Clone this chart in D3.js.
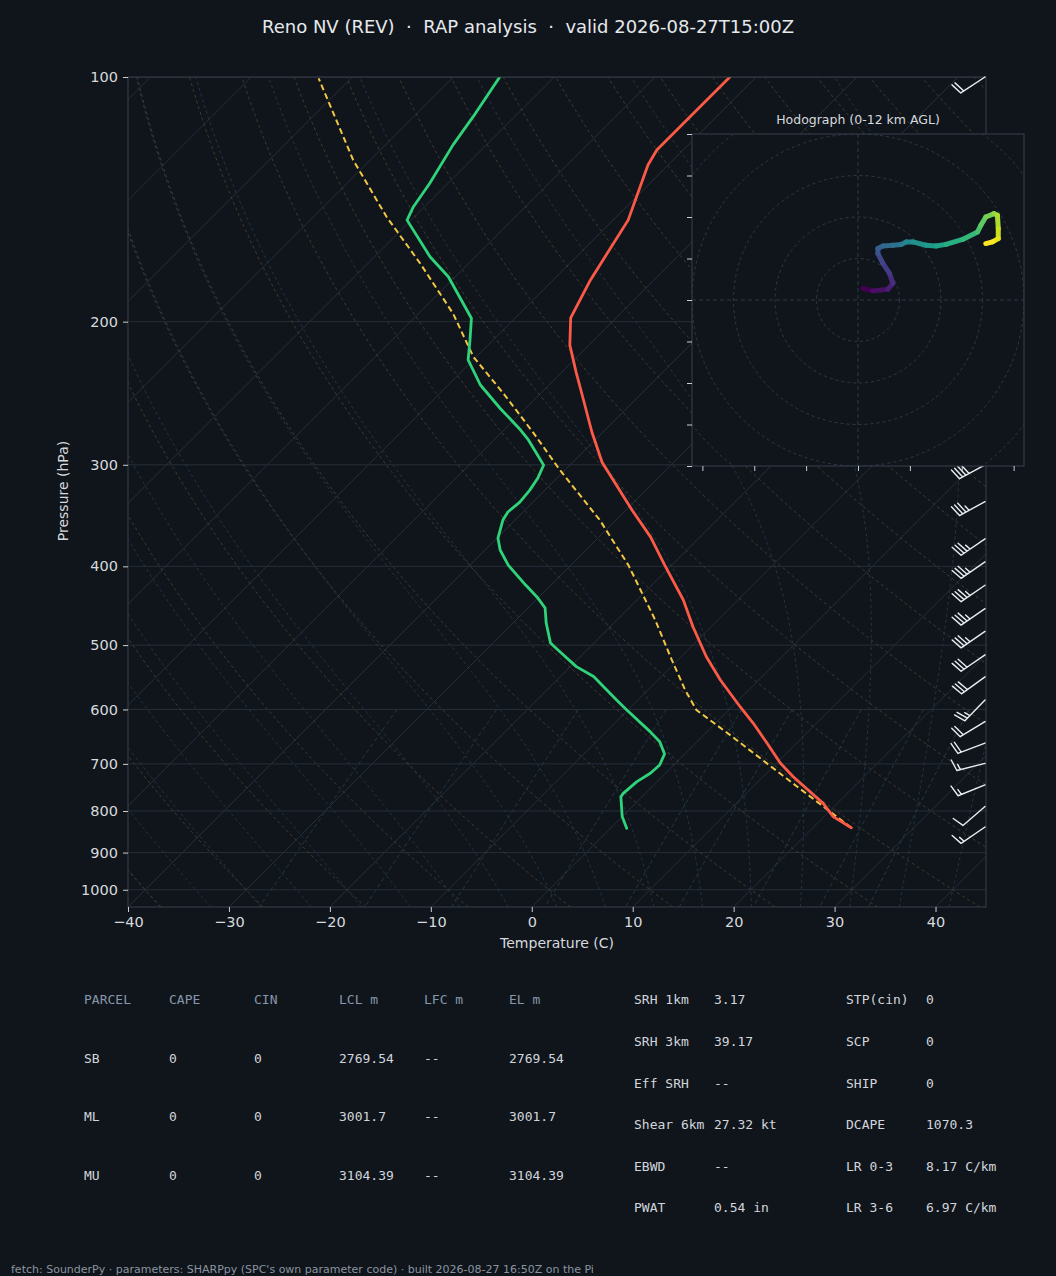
<!DOCTYPE html>
<html>
<head>
<meta charset="utf-8">
<title>Reno NV skew-T</title>
<script src="https://d3js.org/d3.v7.min.js"></script>
<style>
  body { margin: 0; background: #10151c; }
  svg { display: block; }
  text { font-family: "DejaVu Sans", sans-serif; white-space: pre; }
  .mono { font-family: "DejaVu Sans Mono", monospace; }
</style>
</head>
<body>
<svg id="skewt"></svg>
<script>
// ---- sounding data ----
// temperature, hPa / degC
var tempP = [838.8, 812.7, 782.8, 726, 698.8, 660.4, 624, 595.4, 552, 516.7, 474.6, 440, 398.6, 368, 341, 297.8, 273.4, 249.7, 230.7, 213.7, 197.9, 177.8, 150, 128.3, 123, 100];
var tempT = [23.8, 20.9, 18.6, 13.0, 10.4, 7.1, 3.75, 0.8, -3.8, -7.5, -11.8, -15.4, -20.7, -24.9, -29.4, -37.1, -41.1, -45.1, -48.6, -51.9, -54.5, -56.3, -58.5, -62.0, -62.6, -62.6];
// dewpoint
var dewP = [840, 812.7, 768.2, 760.9, 736.2, 718.9, 702.2, 680.7, 657.3, 638.9, 600.9, 584.2, 546.6, 531.4, 509.5, 497, 469.7, 450.1, 437.6, 421.8, 398.6, 381.9, 369.2, 350.8, 342.9, 333.4, 322.3, 311.4, 300.3, 287.7, 279.6, 271.7, 255.4, 239.3, 222.9, 210.6, 198.1, 176.1, 166.4, 150, 144.4, 135.2, 121.2, 111.9, 100];
var dewT = [1.6, 0.0, -2.1, -2.2, -2.0, -1.5, -1.4, -2.0, -3.7, -5.65, -10.1, -12.1, -16.7, -19.4, -22.5, -24.3, -26.7, -28.3, -30.0, -32.5, -36.2, -38.5, -39.9, -41.2, -41.5, -41.3, -41.5, -41.9, -42.6, -45.0, -46.6, -48.4, -52.6, -56.8, -60.5, -62.3, -64.3, -70.7, -74.5, -80.4, -81.1, -81.8, -83.3, -84.1, -85.4];
// surface parcel trace
var parcelP = [838.8, 739.5, 648.2, 600.9, 567.8, 521.5, 465.7, 398.6, 350.8, 304.5, 274.1, 246.2, 220.9, 195.4, 169.6, 148.5, 126.5, 100.4];
var parcelT = [23.8, 13.6, 3.0, -3.2, -6.3, -10.6, -16.2, -24.3, -31.6, -40.5, -46.8, -53.4, -60.3, -66.6, -74.8, -82.8, -91.7, -103.2];
// wind barbs, kt
var barbP = [100, 300, 333, 370, 395, 422, 451, 481, 514, 547, 584, 621, 660, 699, 743, 790, 837];
var barbU = [16.7, 35.1, 30.7, 28.8, 28.8, 28.8, 28.8, 28.8, 24.7, 24.3, 17.3, 17.1, 18.7, 14.5, 13.9, 7.6, 12.4];
var barbV = [11.0, 19.2, 16.8, 19.8, 19.8, 19.8, 19.8, 19.8, 17.0, 17.6, 18.0, 10.4, 7.1, 3.7, 5.6, 6.5, 8.5];
// hodograph, kt
var hodoU = [1.2, 3.6, 7.2, 8.4, 7.6, 6.0, 4.8, 4.8, 6.0, 8.4, 10.4, 11.6, 13.2, 16.4, 18.8, 21.2, 25.2, 28.8, 29.6, 30.8, 32.8, 33.6, 33.8, 33.8, 32.4, 30.8];
var hodoV = [2.8, 2.2, 2.6, 4.0, 6.4, 8.8, 11.2, 12.4, 13.0, 13.2, 13.4, 14.0, 14.0, 13.2, 13.0, 13.4, 14.6, 16.4, 18.0, 20.0, 20.8, 20.4, 17.2, 14.8, 14.0, 13.6];

var pressureTicks = [100, 200, 300, 400, 500, 600, 700, 800, 900, 1000];
var tempTicks = [-40, -30, -20, -10, 0, 10, 20, 30, 40];
var hodoRings = [10, 20, 30, 40, 50, 60];
var hodoYTicks = [-40, -30, -20, -10, 0, 10, 20, 30, 40];
var hodoXTicks = [-37.5, -25, -12.5, 0, 12.5, 25, 37.5];

var parcelHeader = ["PARCEL", "CAPE", "CIN", "LCL m", "LFC m", "EL m"];
var parcelRows = [
  ["SB", "0", "0", "2769.54", "--", "2769.54"],
  ["ML", "0", "0", "3001.7", "--", "3001.7"],
  ["MU", "0", "0", "3104.39", "--", "3104.39"]
];
var paramLabelsA = ["SRH 1km", "SRH 3km", "Eff SRH", "Shear 6km", "EBWD", "PWAT"];
var paramValuesA = ["3.17", "39.17", "--", "27.32 kt", "--", "0.54 in"];
var paramLabelsB = ["STP(cin)", "SCP", "SHIP", "DCAPE", "LR 0-3", "LR 3-6"];
var paramValuesB = ["0", "0", "0", "1070.3", "8.17 C/km", "6.97 C/km"];

// ---- layout ----
var W = 1056, H = 1276;
var m = { left: 128, right: 986, top: 77, bottom: 907 };
var bg = "#10151c", gridCol = "#262e38", spineCol = "#36414d", textCol = "#d6dade";

var svg = d3.select("#skewt").attr("width", W).attr("height", H);
svg.append("rect").attr("width", W).attr("height", H).attr("fill", bg);

var x = d3.scaleLinear().domain([-40, 45]).range([m.left, m.right]);
var y = d3.scaleLog().domain([1050, 100]).range([m.bottom, m.top]);
// 45 degree skew in pixels, anchored at the bottom of the plot
function skewX(t, p) { return x(t) + (m.bottom - y(p)); }
var line = d3.line().x(function (d) { return skewX(d[1], d[0]); }).y(function (d) { return y(d[0]); });

svg.append("clipPath").attr("id", "plotClip").append("rect")
  .attr("x", m.left).attr("y", m.top).attr("width", m.right - m.left).attr("height", m.bottom - m.top);

var plot = svg.append("g").attr("clip-path", "url(#plotClip)");

// background reference lines
var pSteps = d3.range(0, 121).map(function (i) { return 1050 * Math.pow(100 / 1050, i / 120); });

// isobars
plot.selectAll(".isobar").data(pressureTicks).enter().append("line")
  .attr("x1", m.left).attr("x2", m.right)
  .attr("y1", function (d) { return y(d); }).attr("y2", function (d) { return y(d); })
  .attr("stroke", gridCol).attr("stroke-width", 1);

// isotherms
plot.selectAll(".isotherm").data(d3.range(-130, 50, 10)).enter().append("line")
  .attr("x1", function (d) { return skewX(d, 1050); }).attr("y1", y(1050))
  .attr("x2", function (d) { return skewX(d, 100); }).attr("y2", y(100))
  .attr("stroke", gridCol).attr("stroke-width", 1);

// dry adiabats
d3.range(-40, 201, 10).forEach(function (t0) {
  var pts = pSteps.map(function (p) { return [p, (t0 + 273.15) * Math.pow(p / 1000, 0.2857) - 273.15]; });
  plot.append("path").attr("d", line(pts)).attr("fill", "none")
    .attr("stroke", "#4a3d2c").attr("stroke-width", 0.9).attr("stroke-dasharray", "3,3");
});

// moist adiabats
function dTdp(p, T) {
  var es = 6.112 * Math.exp(17.67 * (T - 273.15) / (T - 29.65));
  var rs = 0.622 * es / (p - es);
  return (1 / p) * (287.04 * T + 2.501e6 * rs) / (1005.7 + 2.501e6 * 2.501e6 * rs * 0.622 / (287.04 * T * T));
}
function moistPath(t0) {
  var up = [], down = [], p, T, h, k;
  p = 1000; T = t0 + 273.15; h = -4;
  up.push([p, T - 273.15]);
  while (p > 100) {
    k = dTdp(p + h / 2, T + h / 2 * dTdp(p, T));
    T += h * k; p += h;
    up.push([p, T - 273.15]);
  }
  p = 1000; T = t0 + 273.15; h = 5;
  while (p < 1050) {
    k = dTdp(p + h / 2, T + h / 2 * dTdp(p, T));
    T += h * k; p += h;
    down.push([p, T - 273.15]);
  }
  return down.reverse().concat(up);
}
d3.range(-40, 46, 5).forEach(function (t0) {
  plot.append("path").attr("d", line(moistPath(t0))).attr("fill", "none")
    .attr("stroke", "#24394a").attr("stroke-width", 0.9).attr("stroke-dasharray", "3,3");
});

// mixing ratio lines
[0.0004, 0.001, 0.002, 0.004, 0.007, 0.01, 0.016, 0.024, 0.032].forEach(function (w) {
  var pts = d3.range(0, 21).map(function (i) {
    var p = 600 + i * 22.5;
    var e = p * w / (0.622 + w);
    var a = Math.log(e / 6.112);
    return [p, 243.5 * a / (17.67 - a)];
  });
  plot.append("path").attr("d", line(pts)).attr("fill", "none")
    .attr("stroke", "#233c44").attr("stroke-width", 0.9).attr("stroke-dasharray", "4,3");
});

// profiles
plot.append("path").attr("d", line(d3.zip(parcelP, parcelT))).attr("fill", "none")
  .attr("stroke", "#f2c744").attr("stroke-width", 2).attr("stroke-dasharray", "6,3.5");
plot.append("path").attr("d", line(d3.zip(tempP, tempT))).attr("fill", "none")
  .attr("stroke", "#fb5a47").attr("stroke-width", 2.8).attr("stroke-linejoin", "round").attr("stroke-linecap", "round");
plot.append("path").attr("d", line(d3.zip(dewP, dewT))).attr("fill", "none")
  .attr("stroke", "#2fd47a").attr("stroke-width", 2.8).attr("stroke-linejoin", "round").attr("stroke-linecap", "round");

// frame
svg.append("rect").attr("x", m.left).attr("y", m.top)
  .attr("width", m.right - m.left).attr("height", m.bottom - m.top)
  .attr("fill", "none").attr("stroke", spineCol).attr("stroke-width", 1);

// axes
var yAxis = svg.append("g").attr("transform", "translate(" + m.left + ",0)")
  .call(d3.axisLeft(y).tickValues(pressureTicks).tickFormat(d3.format("d")).tickSize(5).tickPadding(5));
var xAxis = svg.append("g").attr("transform", "translate(0," + m.bottom + ")")
  .call(d3.axisBottom(x).tickValues(tempTicks).tickSize(5).tickPadding(5)
    .tickFormat(function (d) { return d < 0 ? "\u2212" + Math.abs(d) : d; }));
[yAxis, xAxis].forEach(function (a) {
  a.select(".domain").remove();
  a.selectAll(".tick line").attr("stroke", "#c9ced4").attr("stroke-width", 1);
  a.selectAll(".tick text").attr("fill", textCol).style("font-size", "14.5px").style("font-family", "DejaVu Sans");
});

svg.append("text").attr("transform", "translate(68,491) rotate(-90)").attr("text-anchor", "middle")
  .attr("fill", textCol).style("font-size", "14px").text("Pressure (hPa)");
svg.append("text").attr("x", 557).attr("y", 948).attr("text-anchor", "middle")
  .attr("fill", textCol).style("font-size", "14px").text("Temperature (C)");
svg.append("text").attr("x", 528).attr("y", 33).attr("text-anchor", "middle")
  .attr("fill", "#e6e9ec").style("font-size", "18px")
  .text("Reno NV (REV)  \u00b7  RAP analysis  \u00b7  valid 2026-08-27T15:00Z");

// wind barbs on the right edge
var barbs = svg.append("g");
var L = 29, spacing = 0.125 * L, featherLen = 0.4 * L, along = 0.1 * L;
barbP.forEach(function (p, i) {
  var u = barbU[i], v = barbV[i], spd = Math.hypot(u, v);
  var dx = -u / spd, dy = v / spd, nx = -dy, ny = dx;
  var tx = m.right - 1, ty = y(p);
  var r = Math.round(spd / 5) * 5;
  var flags = Math.floor(r / 50); r -= flags * 50;
  var full = Math.floor(r / 10); r -= full * 10;
  var half = r >= 5;
  var path = d3.path();
  path.moveTo(tx, ty); path.lineTo(tx + dx * L, ty + dy * L);
  var off = L, f;
  for (f = 0; f < flags; f++) {
    path.moveTo(tx + dx * off, ty + dy * off);
    path.lineTo(tx + dx * (off - 2 * spacing) + nx * featherLen, ty + dy * (off - 2 * spacing) + ny * featherLen);
    path.lineTo(tx + dx * (off - 4 * spacing), ty + dy * (off - 4 * spacing));
    off -= 5 * spacing;
  }
  for (f = 0; f < full; f++) {
    path.moveTo(tx + dx * off, ty + dy * off);
    path.lineTo(tx + dx * (off + along) + nx * featherLen, ty + dy * (off + along) + ny * featherLen);
    off -= spacing;
  }
  if (half) {
    if (flags + full === 0) off -= 1.5 * spacing;
    path.moveTo(tx + dx * off, ty + dy * off);
    path.lineTo(tx + dx * (off + along / 2) + nx * featherLen / 2, ty + dy * (off + along / 2) + ny * featherLen / 2);
  }
  barbs.append("path").attr("d", path.toString()).attr("fill", "none")
    .attr("stroke", "#e8ecf0").attr("stroke-width", 1.4).attr("stroke-linecap", "round");
});

// ---- hodograph inset ----
var hb = { left: 692, right: 1024, top: 134, bottom: 466 };
var hx = d3.scaleLinear().domain([-40, 40]).range([hb.left, hb.right]);
var hy = d3.scaleLinear().domain([-40, 40]).range([hb.bottom, hb.top]);
var hodo = svg.append("g");
hodo.append("rect").attr("x", hb.left).attr("y", hb.top)
  .attr("width", hb.right - hb.left).attr("height", hb.bottom - hb.top).attr("fill", bg);
svg.append("clipPath").attr("id", "hodoClip").append("rect")
  .attr("x", hb.left).attr("y", hb.top).attr("width", hb.right - hb.left).attr("height", hb.bottom - hb.top);
var hin = hodo.append("g").attr("clip-path", "url(#hodoClip)");
hin.selectAll(".ring").data(hodoRings).enter().append("circle")
  .attr("cx", hx(0)).attr("cy", hy(0)).attr("r", function (d) { return hx(d) - hx(0); })
  .attr("fill", "none").attr("stroke", "#2e3945").attr("stroke-width", 1).attr("stroke-dasharray", "3,3");
hin.append("line").attr("x1", hb.left).attr("x2", hb.right).attr("y1", hy(0)).attr("y2", hy(0))
  .attr("stroke", "#2e3945").attr("stroke-dasharray", "4,3");
hin.append("line").attr("y1", hb.top).attr("y2", hb.bottom).attr("x1", hx(0)).attr("x2", hx(0))
  .attr("stroke", "#2e3945").attr("stroke-dasharray", "4,3");
var nSeg = hodoU.length - 1;
for (var i = 0; i < nSeg; i++) {
  hin.append("line")
    .attr("x1", hx(hodoU[i])).attr("y1", hy(hodoV[i]))
    .attr("x2", hx(hodoU[i + 1])).attr("y2", hy(hodoV[i + 1]))
    .attr("stroke", d3.interpolateViridis(i / (nSeg - 1)))
    .attr("stroke-width", 5).attr("stroke-linecap", "round");
}
hodo.append("rect").attr("x", hb.left).attr("y", hb.top)
  .attr("width", hb.right - hb.left).attr("height", hb.bottom - hb.top)
  .attr("fill", "none").attr("stroke", spineCol).attr("stroke-width", 1);
var hya = hodo.append("g").attr("transform", "translate(" + hb.left + ",0)")
  .call(d3.axisLeft(hy).tickValues(hodoYTicks).tickSize(5).tickFormat(""));
var hxa = hodo.append("g").attr("transform", "translate(0," + hb.bottom + ")")
  .call(d3.axisBottom(hx).tickValues(hodoXTicks).tickSize(5).tickFormat(""));
[hya, hxa].forEach(function (a) {
  a.select(".domain").remove();
  a.selectAll(".tick line").attr("stroke", "#c9ced4");
});
hodo.append("text").attr("x", (hb.left + hb.right) / 2).attr("y", 124).attr("text-anchor", "middle")
  .attr("fill", textCol).style("font-size", "12.5px").text("Hodograph (0-12 km AGL)");

// ---- parameter tables ----
var colX = [84, 169, 254, 339, 424, 509];
var rowY = [1004, 1063, 1121, 1180];
var tbl = svg.append("g").attr("class", "mono").style("font-size", "13px");
parcelHeader.forEach(function (h, j) {
  tbl.append("text").attr("class", "mono").attr("x", colX[j]).attr("y", rowY[0]).attr("fill", "#8797ab").text(h);
});
parcelRows.forEach(function (row, r) {
  row.forEach(function (c, j) {
    tbl.append("text").attr("class", "mono").attr("x", colX[j]).attr("y", rowY[r + 1]).attr("fill", "#d2d6db").text(c);
  });
});
var prY = [1003.5, 1045.5, 1087.5, 1128.5, 1170.5, 1211.5];
paramLabelsA.forEach(function (lab, r) {
  tbl.append("text").attr("class", "mono").attr("x", 634).attr("y", prY[r]).attr("fill", "#d2d6db").text(lab);
  tbl.append("text").attr("class", "mono").attr("x", 714).attr("y", prY[r]).attr("fill", "#d2d6db").text(paramValuesA[r]);
  tbl.append("text").attr("class", "mono").attr("x", 846).attr("y", prY[r]).attr("fill", "#d2d6db").text(paramLabelsB[r]);
  tbl.append("text").attr("class", "mono").attr("x", 926).attr("y", prY[r]).attr("fill", "#d2d6db").text(paramValuesB[r]);
});

svg.append("text").attr("x", 11).attr("y", 1273).attr("fill", "#8a949f").style("font-size", "11px")
  .text("fetch: SounderPy \u00b7 parameters: SHARPpy (SPC's own parameter code) \u00b7 built 2026-08-27 16:50Z on the Pi");
</script>
</body>
</html>
